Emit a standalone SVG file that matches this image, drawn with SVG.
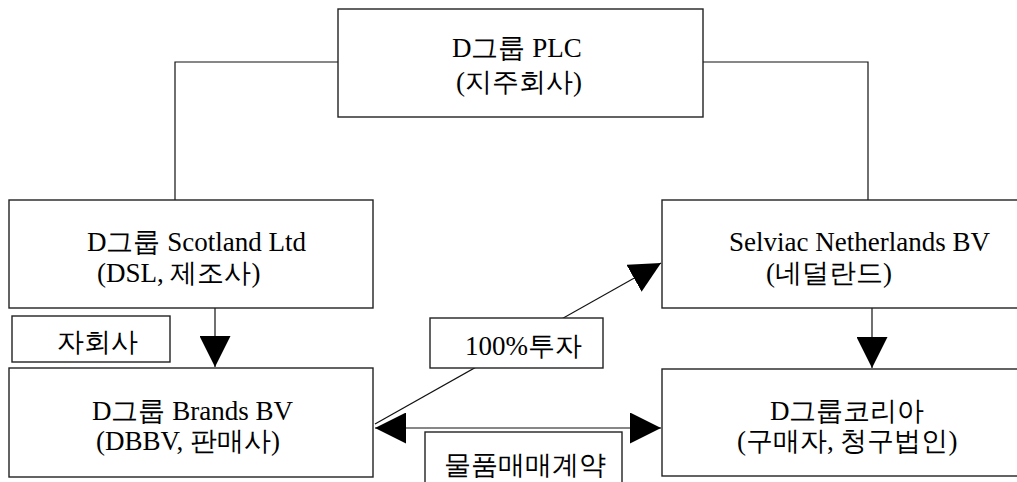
<svg xmlns="http://www.w3.org/2000/svg" width="1017" height="482" viewBox="0 0 1017 482">
<style>
.box{fill:#fff;stroke:#222;stroke-width:1.4}
.ln{fill:none;stroke:#111;stroke-width:1.2}
</style>
<defs>
<marker id="ah" markerUnits="userSpaceOnUse" markerWidth="31" markerHeight="31" viewBox="0 0 30 30" refX="30" refY="15" orient="auto-start-reverse">
<path d="M0,0 L30,15 L0,30 z" fill="#000"/>
</marker>
</defs>
<rect width="1017" height="482" fill="#fff"/>
<g id="connectors">
<path class="ln" d="M338,62 H175 V200"/>
<path class="ln" d="M703,62 H868 V200"/>
<line class="ln" x1="215" y1="308" x2="215" y2="367" marker-end="url(#ah)"/>
<line class="ln" x1="872" y1="308" x2="872" y2="368" marker-end="url(#ah)"/>
<line class="ln" x1="375" y1="424" x2="661" y2="263" marker-end="url(#ah)"/>
<line class="ln" x1="375" y1="428" x2="661" y2="428" marker-start="url(#ah)" marker-end="url(#ah)"/>
</g>
<g id="holding">
<rect class="box" x="338" y="9" width="365" height="108"/>
<text x="452" y="57" font-family="Liberation Serif" font-size="27">D그룹 PLC</text>
<text x="456" y="91" font-family="Liberation Serif" font-size="27">(지주회사)</text>
</g>
<g id="scotland">
<rect class="box" x="9" y="200" width="364" height="108"/>
<text x="87" y="251" font-family="Liberation Serif" font-size="27">D그룹 Scotland Ltd</text>
<text x="97" y="282" font-family="Liberation Serif" font-size="27">(DSL, 제조사)</text>
</g>
<g id="netherlands">
<rect class="box" x="662" y="200" width="360" height="108"/>
<text x="729" y="251" font-family="Liberation Serif" font-size="27">Selviac Netherlands BV</text>
<text x="766" y="282" font-family="Liberation Serif" font-size="27">(네덜란드)</text>
</g>
<g id="brands">
<rect class="box" x="9" y="368" width="364" height="109"/>
<text x="92" y="420" font-family="Liberation Serif" font-size="27">D그룹 Brands BV</text>
<text x="96" y="450" font-family="Liberation Serif" font-size="27">(DBBV, 판매사)</text>
</g>
<g id="korea">
<rect class="box" x="662" y="369" width="360" height="107"/>
<text x="770" y="420" font-family="Liberation Serif" font-size="27">D그룹코리아</text>
<text x="737" y="450" font-family="Liberation Serif" font-size="27">(구매자, 청구법인)</text>
</g>
<g id="label-subsidiary">
<rect class="box" x="12" y="316" width="158" height="46"/>
<text x="57" y="351" font-family="Liberation Serif" font-size="27">자회사</text>
</g>
<g id="label-investment">
<rect class="box" x="430" y="318" width="173" height="50"/>
<text x="465" y="355" font-family="Liberation Serif" font-size="27">100%투자</text>
</g>
<g id="label-contract">
<rect class="box" x="425" y="432" width="197" height="60"/>
<text x="444" y="474" font-family="Liberation Serif" font-size="27">물품매매계약</text>
</g>
</svg>
